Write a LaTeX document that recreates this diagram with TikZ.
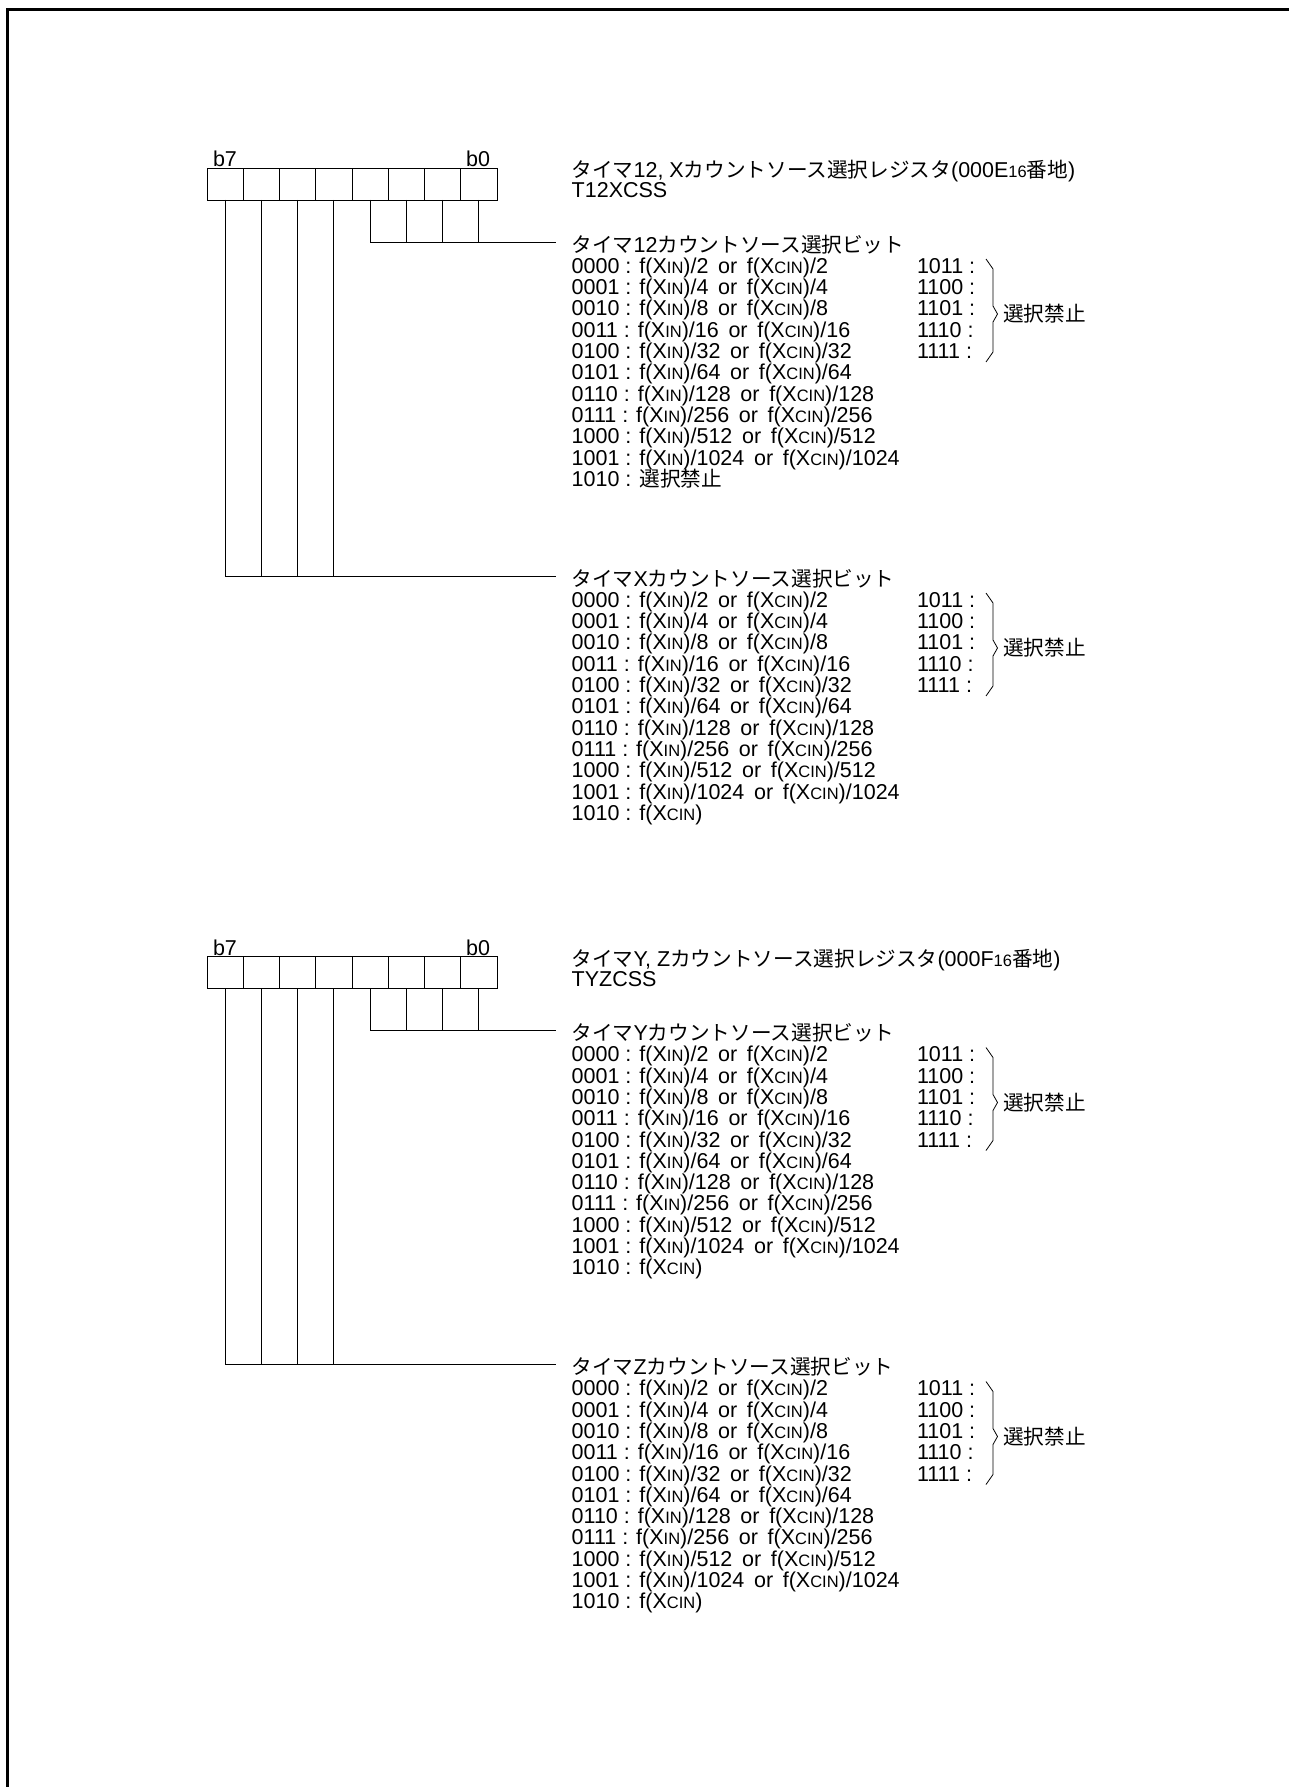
\documentclass[tikz,border=0pt]{standalone}
\usepackage{fontspec}
\setmainfont{Liberation Sans}
\newfontfamily\jpfont[Scale=0.96]{Noto Sans CJK JP}
\newcommand{\jp}[1]{{\jpfont #1}}
\newcommand{\sm}[1]{{\fontsize{16.5}{16.5}\selectfont #1}}
\newcommand{\xin}{f(X\sm{IN})}
\newcommand{\xcin}{f(X\sm{CIN})}
\newcommand{\orr}{\hspace{0.45em}or\hspace{0.45em}}
\tikzset{
  bitbox/.style={draw, line width=0.9pt, minimum width=36.25pt, minimum height=32pt, inner sep=0pt, outer sep=0pt},
  txt/.style={anchor=base west, inner sep=0pt, outer sep=0pt, font=\fontsize{21.5}{22}\selectfont},
  wire/.style={line width=0.9pt},
  bracestyle/.style={line width=0.8pt, line join=miter},
  frame/.style={line width=3pt},
}
% register: #1 prefix, #2 top y, #3 title, #4 name
\newcommand{\register}[4]{%
  \foreach \i in {0,...,7} {
    \node[bitbox] (#1b\i) at ({207+36.25*\i+18.125}, {#2+16}) {};
  }
  \node[txt] (#1hi) at (213, {#2-1.5}) {b7};
  \node[txt, anchor=base east] (#1lo) at (490, {#2-1.5}) {b0};
  \node[txt] (#1title) at (571.7, {#2+9.5}) {#3};
  \node[txt] (#1name) at (571.7, {#2+30}) {#4};
}
% wires: #1 register prefix, #2 first box, #3 last box, #4 end coordinate
\newcommand{\wires}[4]{%
  \draw[wire] (#1b#2.south) |- (#4);
  \foreach \i in {#2,...,#3} {
    \draw[wire] (#1b\i.south) -- (#1b\i.south |- #4);
  }
}
% code block: #1 prefix, #2 header baseline, #3 header, #4 last entry
\newcommand{\codeblock}[4]{%
  \coordinate (#1end) at (556, {#2-10});
  \node[txt] (#1head) at (571.7, #2) {#3};
  \foreach \c/\d [count=\k] in {0000/2,0001/4,0010/8,0011/16,0100/32,0101/64,0110/128,0111/256,1000/512,1001/1024} {
    \node[txt] (#1r\k) at (571.7, {#2+21.3*\k}) {\c{} : \xin/\d\orr\xcin/\d};
  }
  \node[txt] (#1r11) at (571.7, {#2+21.3*11}) {1010 : #4};
  \foreach \c [count=\k] in {1011,1100,1101,1110,1111} {
    \node[txt] (#1s\k) at (917, {#2+21.3*\k}) {\c{} :};
  }
  \coordinate (#1bt) at (986, {#2+7});
  \coordinate (#1tip) at (997.5, {#2+62});
  \coordinate (#1bb) at (986, {#2+110});
  \draw[bracestyle] (#1bt) -- ++(7,10) -- (993, {#2+54}) -- (#1tip)
     -- (993, {#2+70}) -- (993, {#2+100}) -- (#1bb);
  \node[anchor=west, inner sep=0pt, font=\fontsize{21.5}{22}\selectfont] (#1forb) at (1003, {#2+62}) {\jp{選択禁止}};
}
\begin{document}
\begin{tikzpicture}[x=1pt, y=-1pt]
\useasboundingbox (0,0) rectangle (1289,1787);
\draw[frame] (7.5,1787) -- (7.5,9.5) -- (1289,9.5);

% ---------- register 1 ----------
\register{ra}{168}{\jp{タイマ}12, X\jp{カウントソース選択レジスタ}(000E\sm{16}\jp{番地})}{T12XCSS}
\codeblock{ka}{252}{\jp{タイマ}12\jp{カウントソース選択ビット}}{\jp{選択禁止}}
\codeblock{kb}{586}{\jp{タイマ}X\jp{カウントソース選択ビット}}{f(X\sm{CIN})}
\wires{ra}{4}{7}{kaend}
\wires{ra}{0}{3}{kbend}

% ---------- register 2 ----------
\register{rb}{956.5}{\jp{タイマ}Y, Z\jp{カウントソース選択レジスタ}(000F\sm{16}\jp{番地})}{TYZCSS}
\codeblock{kc}{1040.5}{\jp{タイマ}Y\jp{カウントソース選択ビット}}{f(X\sm{CIN})}
\codeblock{kd}{1374.5}{\jp{タイマ}Z\jp{カウントソース選択ビット}}{f(X\sm{CIN})}
\wires{rb}{4}{7}{kcend}
\wires{rb}{0}{3}{kdend}
\end{tikzpicture}
\end{document}
